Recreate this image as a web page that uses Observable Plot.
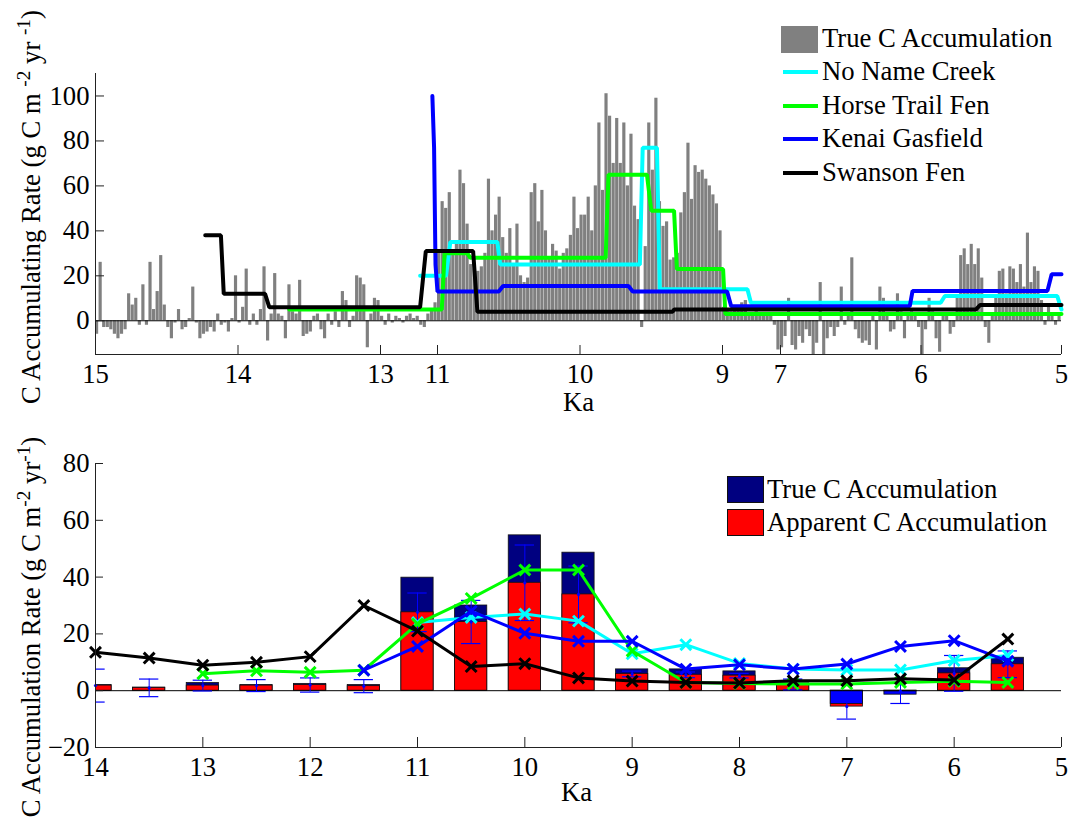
<!DOCTYPE html>
<html>
<head>
<meta charset="utf-8">
<script src="https://cdn.jsdelivr.net/npm/d3@7"></script>
<script src="https://cdn.jsdelivr.net/npm/@observablehq/plot@0.6"></script>
<style>
  body { margin: 0; background: #fff; }
  #fig { position: relative; width: 1068px; height: 828px; font-family: "Liberation Serif", "Times New Roman", Times, "DejaVu Serif", serif; color: #000; overflow: hidden; }
  #fig svg { position: absolute; left: 0; }
  #fig svg text { font-family: "Liberation Serif", "Times New Roman", Times, "DejaVu Serif", serif; font-size: 26.7px; }
  .lbl { position: absolute; white-space: nowrap; font-size: 26.7px; line-height: 1; }
  .ylab { transform: translate(-50%, -50%) rotate(-90deg); }
  .ylab sup { font-size: 0.72em; vertical-align: 0.5em; line-height: 0; }
  .patch { position: absolute; box-sizing: border-box; }
  .sw { position: absolute; height: 4px; }
</style>
</head>
<body>
<div id="fig"></div>
<script>
// ---------- Top panel: modelled accumulation record (ka, broken time axis) ----------
const topBreaks = [15, 13, 11, 9, 7, 5];
const topTicks = [15, 14, 13, 11, 10, 9, 7, 6, 5];
const topYTicks = [0, 20, 40, 60, 80, 100];

// True C accumulation, regularly sampled within each record segment (g C m-2 yr-1)
const gray15to13 = [-6, 26, -3, -3, -4, -6, -8, -6, -4, 12, 7, 10, -2, 16, -2, 26, 5, 13, 29, 7,
  -3, -8, -1, 5, -4, -3, 1, 15, -1, -8, -6, -5, -3, -5, 3, -2, -1, -5, 1, 20,
  -1, 6, 23, -2, 3, -2, 5, 24, -9, 3, 21, 3, 2, -8, 16, 4, 3, 18, -7, -6,
  -5, 2, 3, -4, -8, 3, -2, 4, -3, 13, 9, -3, 2, 20, 19, 16, -12, 3, 10, 9];
const gray13to11 = [2, -2, 3, -1, 2, 1, -1, 2, 3, 1, 2, -2, -3, 3, 5, 8];
const gray11to9 = [30, 53, 50, 57, 30, 35, 67, 61, 43, 25, 23, 22, 24, 30, 63, 40, 47, 55, 37, 30,
  41, 25, 43, 20, 17, 19, 57, 61, 44, 58, 40, 28, 34, 31, 23, 30, 32, 38, 55, 41,
  47, 47, 55, 40, 60, 88, 58, 101, 91, 70, 90, 70, 88, 60, 83, 51, 45, -3, 33, 88,
  67, 99, 53, 42, 44, 27, 28, 30, 48, 57, 79, 54, 69, 66, 67, 63, 60, 56, 52, 40];
const gray9to7 = [6, 5, 4, 6, 5, 8, 9, 3, 2, 4, 3, 2, 3, 2, -2, -13];
const gray7to5 = [-12, -7, 10, -11, -13, -7, -10, -4, -7, -16, -10, 17, -16, -8, -3, -7, -3, 15, -2, 3,
  28, -4, -8, -10, -9, -11, 3, -13, 15, 10, 3, -5, -4, 12, 4, -8, 2, 4, 2, -3,
  -15, -4, 10, 4, -8, -14, 3, 2, -6, -3, 10, 29, 32, 25, 34, 25, 32, 19, -3, -10,
  3, 10, 22, 23, 12, 24, 23, 17, 25, 15, 39, 17, 24, 22, 9, -2, 7, 3, -2, 2];

// Site accumulation histories as [ka, rate] vertices
const noNameCreek = [[11.61, 20], [10.94, 20], [10.91, 35], [10.58, 35], [10.56, 25], [9.58, 25], [9.56, 77],
  [9.46, 77], [9.44, 14], [8.14, 14], [8.02, 8], [5.86, 8], [5.83, 11], [5.03, 11], [5.0, 5]];
const horseTrailFen = [[13.64, 5], [10.97, 5], [10.95, 30], [10.79, 30], [10.77, 28], [9.82, 28], [9.80, 65],
  [9.53, 65], [9.50, 49], [9.34, 49], [9.32, 23], [8.98, 23], [8.90, 3], [5.0, 3]];
const kenaiGasfield = [[11.18, 100], [11.12, 77], [11.07, 25], [11.0, 13], [10.57, 13], [10.54, 15.5], [9.66, 15.5],
  [9.63, 13], [8.84, 13], [8.70, 6.5], [6.08, 6.5], [6.06, 13.3], [5.10, 13.3], [5.07, 20.7], [5.0, 20.7]];
const swansonFen = [[14.23, 38], [14.12, 38], [14.10, 12], [13.81, 12], [13.78, 6], [11.61, 6], [11.41, 31],
  [10.75, 31], [10.72, 4], [9.35, 4], [9.34, 5], [5.61, 5], [5.58, 7], [5.0, 7]];

// ---------- Bottom panel: 500-year bins ----------
const kaBins = [14, 13.5, 13, 12.5, 12, 11.5, 11, 10.5, 10, 9.5, 9, 8.5, 8, 7.5, 7, 6.5, 6, 5.5];
const trueC = [2, 1.1, 2.7, 2, 2.4, 2, 39.8, 30, 54.7, 48.6, 7.5, 7.5, 6.8, 2.6, -4.7, -1.4, 7.9, 11.6];
const apparentC = [1.8, 1, 1.8, 1.8, 2, 1.6, 27.6, 24.2, 38, 33.9, 5.9, 5.6, 5.3, 2.2, -5.6, -0.2, 6.1, 9.3];
const apparentErr = [5.8, 3.1, 1.9, 2.1, 2.5, 2.3, 6.8, 7.6, 13.3, 10, 1, 1, 0.8, 1.9, 4.4, 4.3, 6.3, 4.7];
const binNoName = [null, null, null, null, null, null, 24, 25.8, 27, 24.5, 13, 16.2, 9.6, 7.6, 7.3, 7.3, 10.6, 12.4];
const binHorse = [null, null, 6, 7, 6.5, 7.2, 23.5, 32.5, 42.5, 42.5, 14, 2.9, 2.5, 2.4, 2.4, 2.9, 3.3, 2.9];
const binKenai = [null, null, null, null, null, 7.2, 15.6, 28, 20.2, 17.4, 17.4, 7.6, 9.1, 7.6, 9.4, 15.6, 17.6, 10.4];
const binSwanson = [13.5, 11.5, 9, 10, 12, 30, 21, 8.5, 9.5, 4.5, 3.4, 2.9, 2.7, 3.5, 3.5, 4.2, 3.8, 18.2];
const bottomTicks = [14, 13, 12, 11, 10, 9, 8, 7, 6, 5];
const bottomYTicks = [-20, 0, 20, 40, 60, 80];

const COLORS = {gray: "#808080", cyan: "#00ffff", green: "#00ff00", blue: "#0000ff", black: "#000000", navy: "#000080", red: "#ff0000"};
const FONT = "Liberation Serif, Times New Roman, Times, DejaVu Serif, serif";

// Broken time axis: each record segment gets its own stretch of the axis
const LEFT = 95, RIGHT = 1061;
const breakAxis = d3.scaleLinear().domain(topBreaks).range([LEFT, 380, 437, 722, 780, RIGHT]);
// Axis marks take positions on the broken axis directly, labelled with their ka value
const topTickPos = topTicks.map(t => breakAxis(t));
const topTickLabel = new Map(topTickPos.map((p, i) => [p, String(topTicks[i])]));

// Expand each regularly sampled segment into bar extents
const graySegments = [
  {from: 15, to: 13, values: gray15to13},
  {from: 13, to: 11, values: gray13to11},
  {from: 11, to: 9, values: gray11to9},
  {from: 9, to: 7, values: gray9to7},
  {from: 7, to: 5, values: gray7to5}
];
const grayBars = graySegments.flatMap(({from, to, values}) => {
  const step = (from - to) / values.length;
  return values.map((v, i) => ({x1: from - i * step, x2: from - (i + 1) * step, v}));
});
const xy = {x: d => d[0], y: d => d[1]};

const topPlot = Plot.plot({
  width: 1068, height: 400,
  marginTop: 73, marginBottom: 46, marginLeft: LEFT, marginRight: 1068 - RIGHT,
  style: {fontFamily: FONT, fontSize: "26.7px", background: "transparent", color: "black", overflow: "visible"},
  x: {transform: breakAxis, domain: [LEFT, RIGHT]},
  y: {domain: [-15, 110]},
  marks: [
    Plot.rectY(grayBars, {x1: "x1", x2: "x2", y1: 0, y2: "v", fill: COLORS.gray, insetRight: 0.4, clip: true}),
    Plot.ruleY([0], {stroke: "black", strokeWidth: 1}),
    Plot.line(noNameCreek, {...xy, stroke: COLORS.cyan, strokeWidth: 4, strokeLinejoin: "miter"}),
    Plot.line(horseTrailFen, {...xy, stroke: COLORS.green, strokeWidth: 4, strokeLinejoin: "miter"}),
    Plot.line(kenaiGasfield, {...xy, stroke: COLORS.blue, strokeWidth: 4, strokeLinejoin: "miter"}),
    Plot.line(swansonFen, {...xy, stroke: COLORS.black, strokeWidth: 4, strokeLinejoin: "miter"}),
    Plot.ruleX([15], {stroke: "#222", strokeWidth: 1}),
    Plot.ruleY([-15], {stroke: "#222", strokeWidth: 1}),
    Plot.axisX({ticks: topTickPos, tickSize: 9, dy: -9, tickFormat: () => "", label: null, stroke: "#222"}),
    Plot.axisX({ticks: topTickPos, tickSize: 0, tickPadding: 10, tickFormat: p => topTickLabel.get(p), label: null}),
    Plot.axisY({ticks: topYTicks, tickSize: 9, dx: 9, tickFormat: () => "", label: null, stroke: "#222"}),
    Plot.axisY({ticks: topYTicks, tickSize: 0, tickPadding: 6, label: null})
  ]
});

// Overlay the two bars of each bin, the larger magnitude drawn first
const binRects = kaBins.flatMap((ka, i) => {
  const t = {ka, v: trueC[i], fill: trueC[i] < 0 ? COLORS.blue : COLORS.navy};
  const a = {ka, v: apparentC[i], fill: COLORS.red};
  return Math.abs(trueC[i]) >= Math.abs(apparentC[i]) ? [t, a] : [a, t];
});
const errRows = kaBins.map((ka, i) => ({ka, lo: apparentC[i] - apparentErr[i], hi: apparentC[i] + apparentErr[i], mid: apparentC[i]}));
const seriesRows = (vals) => kaBins.map((ka, i) => ({ka, v: vals[i]})).filter(d => d.v != null);
const binSeries = [
  {rows: seriesRows(binNoName), color: COLORS.cyan},
  {rows: seriesRows(binHorse), color: COLORS.green},
  {rows: seriesRows(binKenai), color: COLORS.blue},
  {rows: seriesRows(binSwanson), color: COLORS.black}
];
const barHalf = 0.15, capHalf = 0.09;

const bottomPlot = Plot.plot({
  width: 1068, height: 428,
  marginTop: 63, marginBottom: 81, marginLeft: LEFT, marginRight: 1068 - RIGHT,
  style: {fontFamily: FONT, fontSize: "26.7px", background: "transparent", color: "black", overflow: "visible"},
  x: {domain: [14, 5]},
  y: {domain: [-20, 80]},
  marks: [
    Plot.rectY(binRects, {x1: d => d.ka + barHalf, x2: d => d.ka - barHalf, y1: 0, y2: "v", fill: "fill", stroke: "#111", strokeWidth: 0.8, clip: true}),
    Plot.ruleY([0], {stroke: "black", strokeWidth: 1}),
    Plot.ruleX(errRows, {x: "ka", y1: "lo", y2: "hi", stroke: COLORS.blue, strokeWidth: 1, clip: true}),
    Plot.ruleY(errRows, {y: "lo", x1: d => d.ka + capHalf, x2: d => d.ka - capHalf, stroke: COLORS.blue, strokeWidth: 1.2, clip: true}),
    Plot.ruleY(errRows, {y: "hi", x1: d => d.ka + capHalf, x2: d => d.ka - capHalf, stroke: COLORS.blue, strokeWidth: 1.2, clip: true}),
    Plot.dot(errRows, {x: "ka", y: "mid", r: 1.6, fill: COLORS.blue}),
    ...binSeries.flatMap(({rows, color}) => [
      Plot.line(rows, {x: "ka", y: "v", stroke: color, strokeWidth: 3}),
      Plot.dot(rows, {x: "ka", y: "v", symbol: "times", r: 5, stroke: color, strokeWidth: 3})
    ]),
    Plot.ruleX([14], {stroke: "#222", strokeWidth: 1}),
    Plot.ruleY([-20], {stroke: "#222", strokeWidth: 1}),
    Plot.axisX({ticks: bottomTicks, tickSize: 10, dy: -10, tickFormat: () => "", label: null, stroke: "#222"}),
    Plot.axisX({ticks: bottomTicks, tickSize: 0, tickPadding: 10, label: null}),
    Plot.axisY({ticks: bottomYTicks, tickSize: 8, dx: 8, tickFormat: () => "", label: null, stroke: "#222"}),
    Plot.axisY({ticks: bottomYTicks, tickSize: 0, tickPadding: 6, label: null})
  ]
});

// ---------- Assemble page ----------
const fig = document.getElementById("fig");
topPlot.style.top = "0px";
bottomPlot.style.top = "400px";
fig.append(topPlot, bottomPlot);

function addText(html, css, cls = "lbl") {
  const el = document.createElement("div");
  el.className = cls;
  el.innerHTML = html;
  Object.assign(el.style, css);
  fig.append(el);
  return el;
}
function addBox(css, cls) {
  const el = document.createElement("div");
  el.className = cls;
  Object.assign(el.style, css);
  fig.append(el);
}

// Axis titles
addText("C Accumulating Rate (g C m <sup>-2</sup> yr <sup>-1</sup>)", {left: "31px", top: "207px"}, "lbl ylab");
addText("C Accumulation Rate (g C m<sup>-2</sup> yr<sup>-1</sup>)", {left: "31px", top: "627px"}, "lbl ylab");
addText("Ka", {left: "563px", top: "389px"});
addText("Ka", {left: "561px", top: "779px"});

// Top legend
addBox({left: "781px", top: "26px", width: "37px", height: "27px", background: COLORS.gray}, "patch");
addText("True C Accumulation", {left: "822px", top: "25px"});
[["No Name Creek", COLORS.cyan, 72], ["Horse Trail Fen", COLORS.green, 106],
 ["Kenai Gasfield", COLORS.blue, 139], ["Swanson Fen", COLORS.black, 173]].forEach(([name, color, y]) => {
  addBox({left: "783px", top: (y - 2) + "px", width: "35px", background: color}, "sw");
  addText(name, {left: "822px", top: (y - 14) + "px"});
});

// Bottom legend
addBox({left: "727px", top: "476px", width: "37px", height: "27px", background: COLORS.navy, border: "1px solid #111"}, "patch");
addText("True C Accumulation", {left: "767px", top: "476px"});
addBox({left: "727px", top: "509px", width: "37px", height: "27px", background: COLORS.red, border: "1px solid #111"}, "patch");
addText("Apparent C Accumulation", {left: "767px", top: "509px"});
</script>
</body>
</html>
